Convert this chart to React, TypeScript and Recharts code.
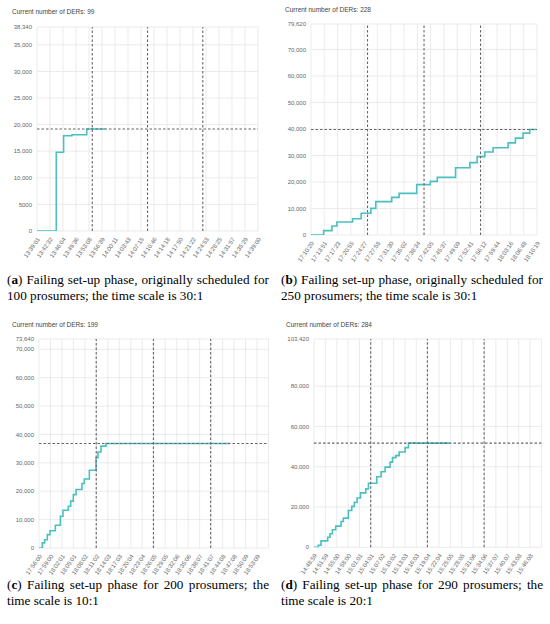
import React from 'react';
import { LineChart, Line, XAxis, YAxis, CartesianGrid, ReferenceLine } from 'recharts';

// ---------- Panel (a) ----------
const aTitle = 'Current number of DERs: 99';
const aTickLabels = ['13:39:01', '13:42:32', '13:46:04', '13:49:36', '13:53:08', '13:56:39', '14:00:11', '14:03:43', '14:07:15', '14:10:46', '14:14:18', '14:17:50', '14:21:22', '14:24:53', '14:28:25', '14:31:57', '14:35:29', '14:39:00'];
const aAxisEnd = '14:39:00';
const aTimes = [0, 314, 433, 569, 810, 1111];
const aValues = [0, 14800, 17900, 18100, 19170, 19170];
const aYTicks = [0, 5000, 10000, 15000, 20000, 25000, 30000, 35000, 38340];
const aTarget = 19170;
const aCaptionTag = 'a';
const aCaption = ['Failing set-up phase, originally scheduled for', '100 prosumers; the time scale is 30:1'];

// ---------- Panel (b) ----------
const bTitle = 'Current number of DERs: 228';
const bTickLabels = ['17:10:20', '17:13:51', '17:17:23', '17:20:55', '17:24:27', '17:27:58', '17:31:30', '17:35:02', '17:38:34', '17:42:05', '17:45:37', '17:49:09', '17:52:41', '17:56:12', '17:59:44', '18:03:16', '18:06:48', '18:10:19'];
const bAxisEnd = '18:10:19';
const bTimes = [0, 201, 333, 412, 662, 799, 953, 1032, 1286, 1403, 1683, 1900, 2011, 2302, 2530, 2646, 2768, 2900, 3139, 3255, 3377, 3483, 3589];
const bValues = [0, 1640, 3400, 4900, 6160, 8180, 10060, 12580, 14200, 15720, 19000, 20250, 21760, 25400, 27300, 29560, 31320, 32950, 34750, 36540, 38460, 39810, 39810];
const bYTicks = [0, 10000, 20000, 30000, 40000, 50000, 60000, 70000, 79620];
const bTarget = 39810;
const bCaptionTag = 'b';
const bCaption = ['Failing set-up phase, originally scheduled for', '250 prosumers; the time scale is 30:1'];

// ---------- Panel (c) ----------
const cTitle = 'Current number of DERs: 199';
const cTickLabels = ['17:56:00', '17:59:00', '18:02:01', '18:05:01', '18:08:02', '18:11:02', '18:14:03', '18:17:03', '18:20:04', '18:23:04', '18:26:05', '18:29:05', '18:32:06', '18:35:06', '18:38:07', '18:41:07', '18:44:08', '18:47:08', '18:50:09', '18:53:09'];
const cAxisEnd = '18:56:10';
const cTimes = [0, 52, 89, 131, 173, 257, 336, 377, 461, 498, 540, 582, 676, 713, 792, 897, 928, 975, 1054, 3004];
const cValues = [0, 1800, 2900, 4700, 6100, 8000, 11200, 13300, 14700, 16500, 18800, 20600, 22700, 24300, 27400, 31800, 33800, 35900, 36820, 36820];
const cYTicks = [0, 10000, 20000, 30000, 40000, 50000, 60000, 70000, 73640];
const cTarget = 36820;
const cCaptionTag = 'c';
const cCaption = ['Failing set-up phase for 200 prosumers; the', 'time scale is 10:1'];

// ---------- Panel (d) ----------
const dTitle = 'Current number of DERs: 284';
const dTickLabels = ['14:48:59', '14:51:59', '14:55:00', '14:58:00', '15:01:01', '15:04:01', '15:07:02', '15:10:02', '15:13:03', '15:16:03', '15:19:04', '15:22:04', '15:25:05', '15:28:05', '15:31:06', '15:34:06', '15:37:07', '15:40:07', '15:43:08', '15:46:08'];
const dAxisEnd = '15:49:09';
const dTimes = [0, 69, 111, 217, 254, 292, 345, 429, 466, 546, 599, 641, 684, 737, 822, 864, 997, 1065, 1129, 1208, 1246, 1299, 1352, 1447, 1500, 2152];
const dValues = [0, 1000, 3200, 5000, 6700, 8700, 10500, 12800, 14500, 18300, 20300, 22300, 24500, 27000, 29000, 31800, 35000, 37500, 39800, 42300, 44500, 45500, 47300, 49500, 51710, 51710];
const dYTicks = [0, 20000, 40000, 60000, 80000, 103420];
const dTarget = 51710;
const dCaptionTag = 'd';
const dCaption = ['Failing set-up phase for 290 prosumers; the', 'time scale is 20:1'];

// phase markers (seconds after start)
const phaseMarks = [900, 1800, 2700];

const LINE_COLOR = 'rgb(75, 192, 192)';
const DASH_COLOR = '#666';
const GRID_COLOR = '#e6e6e6';
const SANS = '"Liberation Sans", Arial, Helvetica, sans-serif';
const SERIF = '"Liberation Serif", "Times New Roman", serif';

const toSec = (s: string) => {
  const [h, m, x] = s.split(':').map(Number);
  return h * 3600 + m * 60 + x;
};

const fmtY = (v: number) => (v < 10000 ? String(v) : v.toLocaleString('en-US'));

type PanelProps = {
  title: string;
  tickLabels: string[];
  axisEnd: string;
  times: number[];
  values: number[];
  yTicks: number[];
  target: number;
  left: number;
  top: number;
  width: number;
  height: number;
  margin: { top: number; right: number; left: number; bottom: number };
  yAxisWidth: number;
  xAxisHeight: number;
  titleLeft: number;
  titleTop: number;
};

const Panel = (p: PanelProps) => {
  const start = toSec(p.tickLabels[0]);
  const xTicks = p.tickLabels.map((l) => toSec(l) - start);
  const end = toSec(p.axisEnd) - start;
  const allTicks = end > xTicks[xTicks.length - 1] ? [...xTicks, end] : xTicks;
  const labelMap = new Map<number, string>();
  xTicks.forEach((t, i) => labelMap.set(t, p.tickLabels[i]));
  const data = p.times.map((t, i) => ({ t, v: p.values[i] }));
  const XTick = (props: any) => {
    const { x, y, payload } = props;
    const label = labelMap.get(payload.value) ?? '';
    return (
      <g transform={`translate(${x + 1.5},${y + 7})`}>
        <text textAnchor="end" transform="rotate(-55)" dy="0.35em" fontSize={6} fill="#666" fontFamily={SANS}>
          {label}
        </text>
      </g>
    );
  };
  return (
    <div style={{ position: 'absolute', left: p.left, top: p.top, width: p.width, height: p.height }}>
      <div
        style={{
          position: 'absolute',
          left: p.titleLeft,
          top: p.titleTop,
          fontFamily: SANS,
          fontSize: 6.5,
          lineHeight: '8px',
          color: '#444',
          whiteSpace: 'nowrap',
        }}
      >
        {p.title}
      </div>
      <LineChart width={p.width} height={p.height} data={data} margin={p.margin}>
        <CartesianGrid stroke={GRID_COLOR} strokeWidth={0.8} />
        <XAxis
          dataKey="t"
          type="number"
          domain={[0, end]}
          ticks={allTicks}
          interval={0}
          height={p.xAxisHeight}
          tickSize={0}
          tickMargin={0}
          axisLine={false}
          tickLine={false}
          tick={XTick}
          allowDataOverflow
        />
        <YAxis
          type="number"
          domain={[0, p.yTicks[p.yTicks.length - 1]]}
          ticks={p.yTicks}
          interval={0}
          width={p.yAxisWidth}
          tickSize={0}
          tickMargin={5}
          axisLine={false}
          tickLine={false}
          tickFormatter={fmtY}
          tick={{ fontSize: 6, fill: '#666', fontFamily: SANS }}
          allowDataOverflow
        />
        <Line
          type="stepAfter"
          dataKey="v"
          stroke={LINE_COLOR}
          strokeWidth={1.6}
          dot={false}
          isAnimationActive={false}
        />
        <ReferenceLine y={p.target} stroke={DASH_COLOR} strokeDasharray="2.5 2" strokeWidth={1.1} />
        {phaseMarks.map((m) => (
          <ReferenceLine key={m} x={m} stroke={DASH_COLOR} strokeDasharray="2.5 2" strokeWidth={1.1} />
        ))}
      </LineChart>
    </div>
  );
};

const Caption = ({ tag, lines, left, top, width }: { tag: string; lines: string[]; left: number; top: number; width: number }) => (
  <div style={{ position: 'absolute', left, top, fontFamily: SERIF, fontSize: 13.2, lineHeight: '16.7px', color: '#000' }}>
    <div style={{ width, textAlign: 'justify', textAlignLast: 'justify' as any }}>
      (<b>{tag}</b>) {lines[0]}
    </div>
    <div style={{ whiteSpace: 'nowrap' }}>{lines[1]}</div>
  </div>
);

export default function App() {
  return (
    <div style={{ position: 'absolute', left: 0, top: 0, width: 550, height: 624, background: '#fff', overflow: 'hidden' }}>
      <Panel
        title={aTitle}
        tickLabels={aTickLabels}
        axisEnd={aAxisEnd}
        times={aTimes}
        values={aValues}
        yTicks={aYTicks}
        target={aTarget}
        left={0}
        top={0}
        width={270}
        height={265}
        margin={{ top: 27, right: 12, left: 0, bottom: 0 }}
        yAxisWidth={37}
        xAxisHeight={34}
        titleLeft={12}
        titleTop={8}
      />
      <Panel
        title={bTitle}
        tickLabels={bTickLabels}
        axisEnd={bAxisEnd}
        times={bTimes}
        values={bValues}
        yTicks={bYTicks}
        target={bTarget}
        left={275}
        top={0}
        width={275}
        height={270}
        margin={{ top: 24, right: 13, left: 0, bottom: 0 }}
        yAxisWidth={36}
        xAxisHeight={35}
        titleLeft={10}
        titleTop={6}
      />
      <Panel
        title={cTitle}
        tickLabels={cTickLabels}
        axisEnd={cAxisEnd}
        times={cTimes}
        values={cValues}
        yTicks={cYTicks}
        target={cTarget}
        left={0}
        top={310}
        width={270}
        height={270}
        margin={{ top: 29, right: 1.5, left: 0, bottom: 0 }}
        yAxisWidth={39}
        xAxisHeight={32}
        titleLeft={12}
        titleTop={11}
      />
      <Panel
        title={dTitle}
        tickLabels={dTickLabels}
        axisEnd={dAxisEnd}
        times={dTimes}
        values={dValues}
        yTicks={dYTicks}
        target={dTarget}
        left={275}
        top={310}
        width={275}
        height={270}
        margin={{ top: 29, right: 8.6, left: 0, bottom: 0 }}
        yAxisWidth={39}
        xAxisHeight={32.7}
        titleLeft={11}
        titleTop={11}
      />
      <Caption tag={aCaptionTag} lines={aCaption} left={7} top={271.6} width={262} />
      <Caption tag={bCaptionTag} lines={bCaption} left={281} top={271.6} width={262} />
      <Caption tag={cCaptionTag} lines={cCaption} left={7} top={576.6} width={262} />
      <Caption tag={dCaptionTag} lines={dCaption} left={281} top={576.6} width={262} />
    </div>
  );
}
